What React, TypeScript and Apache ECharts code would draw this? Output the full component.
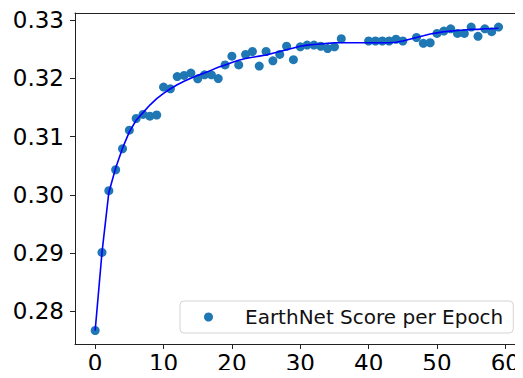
import React, { useEffect, useRef } from "react";
import * as echarts from "echarts";

const epochs: number[] = [
  0, 1, 2, 3, 4, 5, 6, 7, 8, 9, 10, 11, 12, 13, 14, 15, 16, 17, 18, 19, 20,
  21, 22, 23, 24, 25, 26, 27, 28, 29, 30, 31, 32, 33, 34, 35, 36, 40, 41, 42,
  43, 44, 45, 47, 48, 49, 50, 51, 52, 53, 54, 55, 56, 57, 58, 59,
];
const scores: number[] = [
  0.2767, 0.2901, 0.3007, 0.3043, 0.3079, 0.3111, 0.3131, 0.3138, 0.3135,
  0.3137, 0.3185, 0.3182, 0.3203, 0.3205, 0.3209, 0.3199, 0.3206, 0.3206,
  0.31995, 0.3223, 0.3238, 0.3223, 0.3241, 0.3246, 0.3221, 0.3246, 0.3230,
  0.3241, 0.3255, 0.3232, 0.3254, 0.3257, 0.3257, 0.3255, 0.3251, 0.3254,
  0.3268, 0.3264, 0.3264, 0.3264, 0.3264, 0.3267, 0.3264, 0.3270, 0.3260,
  0.3261, 0.3277, 0.3281, 0.3285, 0.3277, 0.3277, 0.3288, 0.3272, 0.3285,
  0.3280, 0.3288,
];
const fitEpochs: number[] = Array.from({ length: 60 }, (_, i) => i);
const fitValues: number[] = [
  0.2767, 0.2901, 0.3004, 0.3046, 0.308, 0.3108, 0.3128, 0.3141, 0.3154,
  0.3165, 0.3174, 0.3182, 0.3189, 0.3195, 0.32, 0.3205, 0.3209, 0.3214,
  0.3219, 0.3223, 0.3227, 0.3231, 0.3234, 0.3236, 0.3238, 0.324, 0.3243,
  0.3246, 0.3249, 0.3252, 0.3255, 0.3257, 0.3258, 0.3259, 0.326, 0.3261,
  0.3261, 0.3261, 0.3261, 0.3261, 0.3261, 0.3261, 0.3261, 0.3261, 0.3262,
  0.3264, 0.3267, 0.327, 0.3273, 0.3276, 0.3278, 0.328, 0.3281, 0.3282,
  0.3283, 0.3284, 0.3284, 0.3285, 0.3285, 0.3286,
];
const xTicks: number[] = [0, 10, 20, 30, 40, 50, 60];
const yTicks: number[] = [0.28, 0.29, 0.3, 0.31, 0.32, 0.33];
const seriesName = "EarthNet Score per Epoch";

const X_MIN = -2.95;
const X_MAX = 61.95;
const Y_MIN = 0.27438;
const Y_MAX = 0.33121;

export default function App() {
  const ref = useRef<HTMLDivElement>(null);
  useEffect(() => {
    if (!ref.current) return;
    const chart = echarts.init(ref.current, null, { renderer: "svg" });
    const font = "DejaVu Sans";
    const frameAxis = {
      type: "value",
      splitLine: { show: false },
      axisTick: { show: false },
      axisLabel: { show: false },
      axisLine: { show: true, onZero: false, lineStyle: { color: "#222" } },
    };
    chart.setOption({
      animation: false,
      grid: {
        left: 75,
        right: 4,
        top: 13,
        bottom: 34,
      },
      legend: {
        data: [seriesName],
        left: 180,
        top: 301,
        orient: "horizontal",
        itemWidth: 9,
        itemHeight: 9,
        padding: [4, 10, 4, 24],
        borderColor: "#d4d4d4",
        borderWidth: 1,
        borderRadius: 4,
        textStyle: {
          fontFamily: font,
          fontSize: 20,
          color: "#111",
          lineHeight: 24,
          padding: [0, 0, 0, 27],
        },
      },
      xAxis: [
        {
          type: "value",
          position: "bottom",
          min: X_MIN,
          max: X_MAX,
          splitLine: { show: false },
          axisLine: { show: true, onZero: false, lineStyle: { color: "#222" } },
          axisTick: {
            show: true,
            customValues: xTicks,
            length: 5,
            lineStyle: { color: "#222" },
          },
          axisLabel: {
            customValues: xTicks,
            fontFamily: font,
            fontSize: 23,
            color: "#000",
            margin: 7,
          },
        },
        { ...frameAxis, position: "top", min: X_MIN, max: X_MAX },
      ],
      yAxis: [
        {
          type: "value",
          position: "left",
          min: Y_MIN,
          max: Y_MAX,
          splitLine: { show: false },
          axisLine: { show: true, onZero: false, lineStyle: { color: "#222" } },
          axisTick: {
            show: true,
            customValues: yTicks,
            length: 5,
            lineStyle: { color: "#222" },
          },
          axisLabel: {
            customValues: yTicks,
            fontFamily: font,
            fontSize: 23,
            color: "#000",
            margin: 11,
            formatter: (v: number) => v.toFixed(2),
          },
        },
        { ...frameAxis, position: "right", min: Y_MIN, max: Y_MAX },
      ],
      series: [
        {
          name: seriesName,
          type: "scatter",
          data: epochs.map((e, i) => [e, scores[i]]),
          symbol: "circle",
          symbolSize: 9,
          itemStyle: { color: "#1f77b4", opacity: 1 },
          z: 2,
        },
        {
          name: "fit",
          type: "line",
          data: fitEpochs.map((e, i) => [e, fitValues[i]]),
          showSymbol: false,
          symbol: "none",
          smooth: false,
          lineStyle: { color: "#0000ff", width: 1.6 },
          z: 3,
        },
      ],
    });
    return () => chart.dispose();
  }, []);
  return <div ref={ref} style={{ width: 523, height: 378, margin: -8 }} />;
}
